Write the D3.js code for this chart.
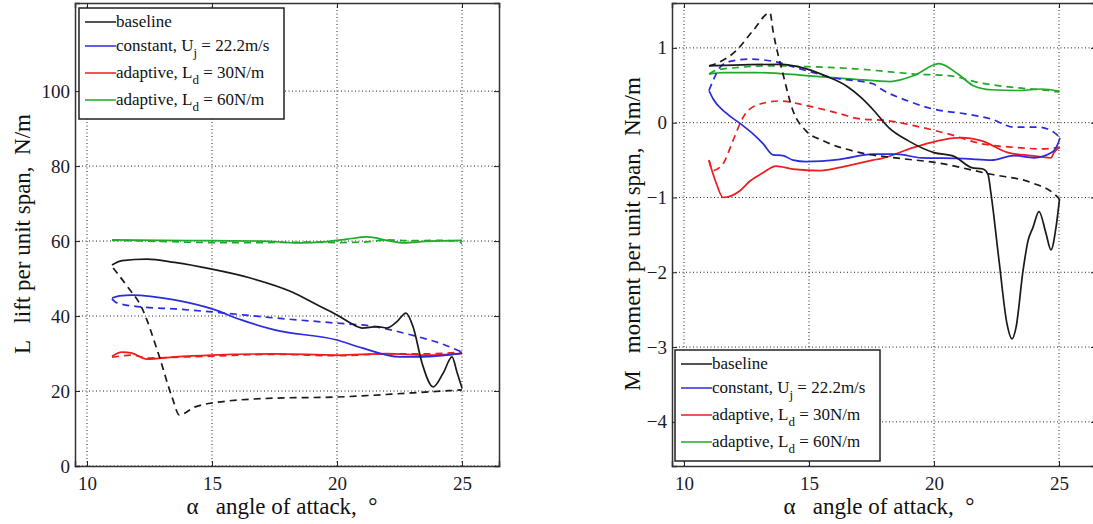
<!DOCTYPE html>
<html>
<head>
<meta charset="utf-8">
<script src="https://cdn.jsdelivr.net/npm/d3@7"></script>
<style>
  body { margin: 0; background: #fff; }
  svg, svg text { font-family: "Liberation Serif", "DejaVu Serif", serif; }
  .grid line { stroke: #222; stroke-width: 1; stroke-dasharray: 1,2.5; }
</style>
</head>
<body>
<div id="chart"></div>
<script>
// angle of attack ticks
var alphaTicks = [10, 15, 20, 25];
var liftTicks = [0, 20, 40, 60, 80, 100];
var momentTicks = [-4, -3, -2, -1, 0, 1];

// lift per unit span [alpha, L]  (solid = increasing alpha, dashed = decreasing)
var liftBaseSolid = [[11.0,53.6],[11.4,54.8],[12.4,55.2],[13.5,54.3],[15,52.5],[16.5,50.2],[18.2,46.4],[19.2,43],[20,40.3],[20.5,38.3],[21,36.8],[21.6,37.2],[22,36.8],[22.4,38.5],[22.76,40.8],[23.05,37],[23.4,27.5],[23.85,21.1],[24.25,24.8],[24.6,29.1],[24.8,25],[25,20.8]];
var liftBaseDash = [[11.05,52.8],[11.6,48],[12.2,42.1],[12.85,30.1],[13.4,18.4],[13.7,13.6],[14.3,15.7],[15,16.8],[17.5,18.1],[20,18.4],[23,19.5],[25,20.3]];
var liftConstSolid = [[11.0,44.8],[11.3,45.4],[11.8,45.6],[13.5,44.3],[15,41.9],[16.2,38.9],[17.5,36.3],[20,33.6],[21,31.5],[22.5,29.1],[23.4,29.1],[25,30.1]];
var liftConstDash = [[11.0,44.6],[11.2,43.5],[12.2,42.4],[13.5,41.9],[15,41.1],[17.5,39.5],[20,38.1],[21.4,37.3],[23,34.9],[24.1,32.8],[25,30.4]];
var liftAd30Solid = [[11.0,29.3],[11.4,30.4],[11.8,30.1],[12.4,28.5],[13.5,29.1],[15,29.6],[17.5,29.9],[20,29.6],[22,30],[23.5,29.6],[25,30]];
var liftAd30Dash = [[11.0,29.0],[11.3,29.3],[11.8,29.6],[12.4,28.8],[13.5,29.0],[15,29.3],[17.5,29.8],[20,29.4],[22,29.9],[23.5,29.9],[25,30.4]];
var liftAd60Solid = [[11.0,60.3],[13,60.2],[15,60.1],[17,60],[18.5,59.5],[19.5,59.8],[20.4,60.5],[21.2,61.1],[22,60.2],[22.7,59.5],[23.5,59.9],[25,60.2]];
var liftAd60Dash = [[11.0,60.2],[13,59.9],[15,59.6],[17,59.6],[19,59.7],[20,59.6],[21,59.7],[22,60.3],[23,60.1],[24,60.2],[24.8,60],[25,59.3]];

// moment per unit span [alpha, M]
var momBaseSolid = [[11.0,0.76],[12,0.77],[13.84,0.78],[14.9,0.72],[15.7,0.62],[16.5,0.49],[17.1,0.33],[17.6,0.16],[18.2,-0.07],[18.96,-0.24],[20,-0.4],[20.8,-0.45],[21.5,-0.6],[21.96,-0.62],[22.16,-0.69],[22.28,-0.95],[22.6,-1.84],[22.92,-2.69],[23.12,-2.89],[23.28,-2.74],[23.56,-1.98],[23.76,-1.58],[23.96,-1.4],[24.2,-1.19],[24.48,-1.48],[24.68,-1.7],[24.88,-1.4],[25.02,-1.02]];
var momBaseDash = [[11.0,0.76],[11.28,0.79],[12.08,0.96],[12.76,1.23],[13.44,1.47],[13.56,1.23],[13.96,0.65],[14.36,0.16],[14.88,-0.11],[15.56,-0.24],[17.04,-0.4],[18.7,-0.48],[20,-0.53],[22.28,-0.69],[23.88,-0.8],[24.8,-0.95],[25.02,-1.02]];
var momConstSolid = [[11.0,0.43],[11.16,0.32],[11.68,0.13],[12.24,-0.01],[12.76,-0.15],[13.16,-0.28],[13.56,-0.43],[13.96,-0.44],[14.36,-0.5],[14.88,-0.52],[16.24,-0.49],[17.56,-0.42],[18.5,-0.42],[19.5,-0.47],[21.2,-0.48],[22.3,-0.5],[23.2,-0.44],[24,-0.47],[24.7,-0.4],[24.96,-0.28],[25.04,-0.2]];
var momConstDash = [[11.0,0.43],[11.16,0.56],[11.44,0.74],[11.84,0.82],[12.64,0.85],[13.56,0.82],[14.64,0.72],[15.96,0.6],[17.56,0.52],[17.88,0.45],[18.96,0.29],[20,0.18],[21.2,0.12],[22.28,0.05],[23.2,-0.06],[24.16,-0.06],[24.8,-0.13],[25.04,-0.2]];
var momAd30Solid = [[11.0,-0.51],[11.08,-0.6],[11.28,-0.8],[11.56,-1.0],[12.24,-0.91],[12.64,-0.78],[13.16,-0.67],[13.68,-0.58],[14.36,-0.62],[15.44,-0.64],[16.48,-0.58],[17.56,-0.5],[17.88,-0.48],[19.2,-0.33],[21.08,-0.2],[21.88,-0.24],[22.96,-0.4],[23.88,-0.44],[24.68,-0.47],[24.8,-0.4],[25.04,-0.33]];
var momAd30Dash = [[11.0,-0.5],[11.16,-0.64],[11.56,-0.55],[11.96,-0.24],[12.36,0.07],[12.88,0.23],[13.84,0.29],[14.88,0.23],[16.24,0.12],[17.04,0.05],[18.08,0.03],[19.2,-0.04],[20.56,-0.15],[21.88,-0.28],[23.2,-0.33],[24.28,-0.35],[25.04,-0.33]];
var momAd60Solid = [[11.0,0.65],[11.56,0.67],[12.88,0.67],[14.88,0.63],[16.88,0.58],[18.24,0.55],[19.2,0.63],[20.2,0.79],[20.96,0.65],[21.6,0.49],[22.28,0.44],[23.48,0.43],[24.28,0.45],[25.02,0.42]];
var momAd60Dash = [[11.0,0.65],[11.28,0.7],[12.24,0.74],[13.56,0.76],[14.88,0.75],[16.88,0.72],[18.24,0.68],[19.2,0.65],[20.56,0.63],[21.88,0.53],[23.2,0.47],[24.56,0.43],[25.02,0.41]];

var colors = { baseline: "#1a1a1a", constant: "#2b2be0", ad30: "#ee1c1c", ad60: "#22a82a" };
var serif = "Liberation Serif";

var W = 1093, H = 524;
var svg = d3.select("#chart").append("svg")
    .attr("width", W)
    .attr("height", H);

function draw_panel(opts) {
    var x = d3.scaleLinear().domain([9.52, 26.48]).range([opts.left, opts.left + 424]);
    var y = d3.scaleLinear().domain(opts.yDomain).range([466, 3]);
    var g = svg.append("g");

    // grid
    var grid = g.append("g").attr("class", "grid");
    grid.selectAll("line.v").data(alphaTicks).join("line")
        .attr("x1", d => x(d)).attr("x2", d => x(d))
        .attr("y1", 3).attr("y2", 466);
    grid.selectAll("line.h").data(opts.yTicks).join("line")
        .attr("x1", opts.left).attr("x2", opts.left + 424)
        .attr("y1", d => y(d)).attr("y2", d => y(d));

    // axes, ticks inside like matlab
    var xa = g.append("g").attr("transform", "translate(0,466)")
        .call(d3.axisBottom(x).tickValues(alphaTicks).tickSize(-5).tickPadding(11));
    var ya = g.append("g").attr("transform", "translate(" + opts.left + ",0)")
        .call(d3.axisLeft(y).tickValues(opts.yTicks).tickSize(-5).tickPadding(5)
            .tickFormat(d => d < 0 ? "\u2212" + Math.abs(d) : d));
    g.append("g").attr("transform", "translate(0,3)")
        .call(d3.axisTop(x).tickValues(alphaTicks).tickSize(-5).tickFormat(""));
    g.append("g").attr("transform", "translate(" + (opts.left + 424) + ",0)")
        .call(d3.axisRight(y).tickValues(opts.yTicks).tickSize(-5).tickFormat(""));
    g.selectAll(".domain").attr("stroke", "#333").attr("stroke-width", 1.5);
    g.selectAll(".tick line").attr("stroke", "#222");
    [xa, ya].forEach(function (a) {
        a.attr("font-family", serif).attr("font-size", 19);
        a.selectAll("text").attr("fill", "#1a1a2a");
    });

    // curves
    var line = d3.line()
        .x(d => x(d[0]))
        .y(d => y(d[1]))
        .curve(d3.curveMonotoneX);
    opts.series.forEach(function (s) {
        g.append("path")
            .datum(s.data)
            .attr("d", line)
            .attr("fill", "none")
            .attr("stroke", colors[s.key])
            .attr("stroke-width", 1.7)
            .attr("stroke-dasharray", s.dash ? "7,5" : null);
    });

    // axis labels
    g.append("text")
        .attr("x", opts.left + 207).attr("y", 514)
        .attr("text-anchor", "middle")
        .attr("font-family", serif)
        .attr("font-size", 23).attr("fill", "#111")
        .attr("xml:space", "preserve")
        .text("\u03b1   angle of attack,  \u00b0");
    g.append("text")
        .attr("transform", "translate(" + opts.ylabelX + ",234) rotate(-90)")
        .attr("text-anchor", "middle")
        .attr("font-family", serif)
        .attr("font-size", 23).attr("fill", "#111")
        .attr("xml:space", "preserve")
        .text(opts.ylabel);

    // legend
    var lg = g.append("g").attr("transform", "translate(" + opts.legX + "," + opts.legY + ")");
    lg.append("rect").attr("width", 205).attr("height", 111)
        .attr("fill", "#fff").attr("stroke", "#222").attr("stroke-width", 1.5);
    var entries = [
        { key: "baseline", main: "baseline" },
        { key: "constant", main: "constant, U", sub: "j", rest: " = 22.2m/s" },
        { key: "ad30", main: "adaptive, L", sub: "d", rest: " = 30N/m" },
        { key: "ad60", main: "adaptive, L", sub: "d", rest: " = 60N/m" }
    ];
    var rowY = [14, 38, 65, 92];
    entries.forEach(function (e, i) {
        lg.append("line")
            .attr("x1", 6).attr("x2", 37)
            .attr("y1", rowY[i]).attr("y2", rowY[i])
            .attr("stroke", colors[e.key]).attr("stroke-width", 1.5);
        var t = lg.append("text")
            .attr("x", 37).attr("y", rowY[i] + 5)
            .attr("font-family", serif)
            .attr("font-size", 17).attr("fill", "#111");
        t.append("tspan").text(e.main);
        if (e.sub) {
            t.append("tspan").attr("dy", 6).attr("font-size", 13).text(e.sub);
            t.append("tspan").attr("dy", -6).text(e.rest);
        }
    });
}

draw_panel({
    left: 75,
    yDomain: [0, 123.5],
    yTicks: liftTicks,
    ylabel: "L   lift per unit span,  N/m",
    ylabelX: 30,
    legX: 79, legY: 8,
    series: [
        { key: "ad60", data: liftAd60Dash, dash: true },
        { key: "ad60", data: liftAd60Solid },
        { key: "ad30", data: liftAd30Dash, dash: true },
        { key: "ad30", data: liftAd30Solid },
        { key: "constant", data: liftConstDash, dash: true },
        { key: "constant", data: liftConstSolid },
        { key: "baseline", data: liftBaseDash, dash: true },
        { key: "baseline", data: liftBaseSolid }
    ]
});

draw_panel({
    left: 672,
    yDomain: [-4.59, 1.6],
    yTicks: momentTicks,
    ylabel: "M   moment per unit span,  Nm/m",
    ylabelX: 640,
    legX: 675, legY: 350,
    series: [
        { key: "ad60", data: momAd60Dash, dash: true },
        { key: "ad60", data: momAd60Solid },
        { key: "ad30", data: momAd30Dash, dash: true },
        { key: "ad30", data: momAd30Solid },
        { key: "constant", data: momConstDash, dash: true },
        { key: "constant", data: momConstSolid },
        { key: "baseline", data: momBaseDash, dash: true },
        { key: "baseline", data: momBaseSolid }
    ]
});
</script>
</body>
</html>
